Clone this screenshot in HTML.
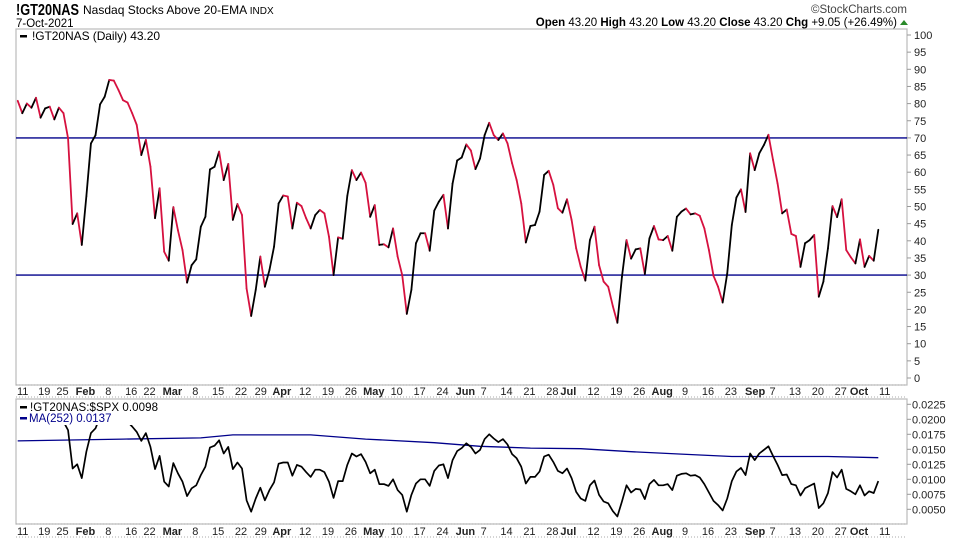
<!DOCTYPE html>
<html><head><meta charset="utf-8"><style>
body{margin:0;background:#fff;width:960px;height:540px;overflow:hidden;font-family:"Liberation Sans",sans-serif}
svg text{font-family:"Liberation Sans",sans-serif}
</style></head><body>
<svg id="chart" width="960" height="540" viewBox="0 0 960 540" xmlns="http://www.w3.org/2000/svg">
<defs>
<clipPath id="cpMain"><rect x="16" y="29" width="891" height="356"/></clipPath>
<clipPath id="cpLow"><rect x="16" y="399" width="891" height="125"/></clipPath>
</defs>
<text x="16" y="15" font-size="16" font-weight="bold" fill="#000" textLength="63" lengthAdjust="spacingAndGlyphs">!GT20NAS</text>
<text x="83" y="14" font-size="12" fill="#000">Nasdaq Stocks Above 20-EMA <tspan font-size="10">INDX</tspan></text>
<text x="16" y="27" font-size="11.5" fill="#000">7-Oct-2021</text>
<text x="907" y="13" font-size="11.5" fill="#444" text-anchor="end">©StockCharts.com</text>
<text x="897" y="26" font-size="11.5" fill="#000" text-anchor="end"><tspan font-weight="bold">Open</tspan> 43.20  <tspan font-weight="bold">High</tspan> 43.20  <tspan font-weight="bold">Low</tspan> 43.20  <tspan font-weight="bold">Close</tspan> 43.20  <tspan font-weight="bold">Chg</tspan> +9.05 (+26.49%)</text>
<polygon points="900,25 908,25 904,20" fill="#2a8a2a"/>
<g id="axes"></g>
<g id="mainSeries" clip-path="url(#cpMain)"></g>
<g id="lowSeries" clip-path="url(#cpLow)"></g>
<g id="legends"></g>
</svg>
<script>
// ---- data ----
const mainValues=[80.8,77.2,80,78.8,81.7,75.9,78.6,79.1,75.4,78.8,77.2,69.9,44.9,48,38.8,53,68.4,70.8,79.8,82,86.9,86.7,84,81,80.3,77.2,73.8,65,69.4,61.6,46.6,55.3,36.8,34.2,49.8,43.1,37.3,27.8,32.9,34.6,44.1,47,60.8,61.6,66,57.7,62.4,46.1,50.7,47.5,26.1,18.1,25.7,35.4,26.6,31.5,38.3,50.9,53.2,52.9,43.6,51.1,50.1,46.6,43.6,47.5,49,48,41.2,30,41,40.6,53.1,60.6,57.7,59.9,56.9,47,50.4,38.8,39,38.1,43.6,35.4,30,18.7,25.7,39.3,42.2,42.2,37.1,48.8,51.4,53.4,43.6,56.7,63.4,64.3,68.1,66.3,60.9,64,70.8,74.4,70.8,69.4,71.3,68.4,62.6,57.7,50.9,39.5,44.3,44.6,48.5,59.2,60.4,56.3,49.5,48.2,52.1,46.1,37.8,32.4,28.4,40.2,44.1,32.9,28.1,26.6,21,16.1,29.5,40.2,34.8,37.5,37.8,30.3,40.7,44.3,40.4,40.2,41.4,37.1,47,48.5,49.4,47.7,48,47.3,43.6,37.3,29.8,26.6,22,30.5,44.6,52.6,55,48.4,65.5,60.6,65.5,67.9,70.9,63.6,56.7,48,49.1,42,41.4,32.4,39.3,40.2,41.7,23.7,28.1,37.8,50.1,46.9,52.1,37.3,35.2,33.4,40.4,32.4,35.6,34.2,43.2];
const ratioValues=[0.0215,0.021,0.0216,0.0212,0.022,0.0205,0.021,0.0212,0.0203,0.0198,0.0196,0.0182,0.0118,0.0125,0.0102,0.0146,0.0177,0.0185,0.0204,0.0213,0.0226,0.0228,0.0213,0.0204,0.0196,0.0188,0.0179,0.0164,0.0177,0.0154,0.0117,0.0139,0.0096,0.0088,0.0127,0.011,0.0096,0.0072,0.0085,0.009,0.0107,0.0121,0.0153,0.0156,0.0165,0.0143,0.0154,0.0117,0.0128,0.0118,0.0065,0.0046,0.0068,0.0086,0.0065,0.0082,0.0095,0.0126,0.0128,0.0128,0.0106,0.0124,0.0121,0.0112,0.0104,0.0116,0.0116,0.0112,0.0096,0.0069,0.0097,0.0097,0.0124,0.0143,0.0138,0.0142,0.0129,0.011,0.0116,0.0092,0.0092,0.0089,0.01,0.0082,0.0074,0.0046,0.0074,0.0093,0.01,0.01,0.0089,0.0114,0.0123,0.0125,0.0102,0.0132,0.0147,0.0152,0.016,0.0154,0.0143,0.0149,0.0167,0.0175,0.0168,0.0162,0.0167,0.0158,0.0142,0.0135,0.0121,0.0093,0.0104,0.0104,0.0113,0.0138,0.0141,0.0129,0.0114,0.011,0.0118,0.0102,0.0079,0.0068,0.0064,0.009,0.0098,0.0074,0.0063,0.006,0.0047,0.0038,0.0063,0.009,0.0078,0.0084,0.0083,0.0067,0.0092,0.0099,0.009,0.009,0.0092,0.0082,0.0106,0.0109,0.011,0.0106,0.0107,0.0103,0.0092,0.0078,0.0064,0.0057,0.0048,0.0068,0.0097,0.0113,0.0119,0.0107,0.0143,0.0132,0.0143,0.0149,0.0155,0.0139,0.0124,0.0107,0.0108,0.0092,0.009,0.0073,0.0085,0.0089,0.0093,0.0052,0.006,0.0077,0.0112,0.0103,0.0116,0.0084,0.008,0.0075,0.009,0.0073,0.008,0.0077,0.0097];
const maDays=[0,23,40,47,64,76,91,101,112,123,134,145,156,167,177,188];
const maValues=[0.0164,0.0167,0.0169,0.0174,0.0174,0.0167,0.0161,0.0155,0.0152,0.0151,0.0146,0.0142,0.0138,0.0138,0.0138,0.0136];
const mainTicks=[0,5,10,15,20,25,30,35,40,45,50,55,60,65,70,75,80,85,90,95,100];
const lowTicks=[0.005,0.0075,0.01,0.0125,0.015,0.0175,0.02,0.0225];
const refLevels=[70,30];
const dateLabels=["11","19","25","Feb","8","16","22","Mar","8","15","22","29","Apr","12","19","26","May","10","17","24","Jun","7","14","21","28","Jul","12","19","26","Aug","9","16","23","Sep","7","13","20","27","Oct","11"];
const dateDays=[0,4.7,8.7,13.7,18.7,23.7,27.7,32.7,37.7,42.7,47.7,52.0,56.6,61.7,66.7,71.7,76.7,81.7,86.7,91.7,96.7,100.7,105.7,110.7,115.7,119.2,124.7,129.7,134.7,139.7,144.7,149.7,154.7,160,163.8,168.7,173.7,178.7,182.7,188.3];
const boldLabels=["Feb","Mar","Apr","May","Jun","Jul","Aug","Sep","Oct"];

// ---- scales ----
const NS="http://www.w3.org/2000/svg";
const X0=17.7,X1=878.3,N=mainValues.length;
function xDay(d){return X0+d*(X1-X0)/(N-1);}
function yMain(v){return 378-v*3.43;}
function yLow(v){return 404.3+(0.0225-v)*6000;}
function mk(tag,attrs,parent){const e=document.createElementNS(NS,tag);for(const k in attrs)e.setAttribute(k,attrs[k]);parent.appendChild(e);return e;}

const axes=document.getElementById('axes');
const f1=mk('rect',{x:16,y:29,width:891,height:356,fill:'none',stroke:'#bbb','stroke-width':1.2},axes);


const f2=mk('rect',{x:16,y:399,width:891,height:125,fill:'none',stroke:'#bbb','stroke-width':1.2},axes);


[385,397,524,537].forEach(function(y){
  const l=mk('line',{x1:16,x2:907,y1:y,y2:y,stroke:'#aaa','stroke-dasharray':'1,2'},axes);
  
  
});
mainTicks.forEach(function(t){
  const y=yMain(t);
  const tl=mk('line',{x1:907,x2:911,y1:y,y2:y,stroke:'#999'},axes);
  
  
  const tx=mk('text',{x:914,y:y+4,'font-size':11,fill:'#222'},axes);
  tx.textContent=t;
  
  
});
lowTicks.forEach(function(t){
  const y=yLow(t);
  const tl=mk('line',{x1:907,x2:911,y1:y,y2:y,stroke:'#999'},axes);
  
  
  const tx=mk('text',{x:912,y:y+4,'font-size':11,fill:'#222'},axes);
  tx.textContent=t.toFixed(4);
  
  
});
[395,535].forEach(function(yy,k){
  dateLabels.forEach(function(lab,i){
    const b=boldLabels.indexOf(lab)>=0;
    const tx=mk('text',{x:xDay(dateDays[i])+5,y:yy,'font-size':11,'text-anchor':'middle',fill:'#222','font-weight':b?'bold':'normal'},axes);
    tx.textContent=lab;
    
    
  });
});
refLevels.forEach(function(v){
  const l=mk('line',{x1:16,x2:907,y1:yMain(v),y2:yMain(v),stroke:'#00008b','stroke-width':1.4},axes);
  
  
});
const ms=document.getElementById('mainSeries');
for(let i=1;i<N;i++){
  const down=mainValues[i]<mainValues[i-1];
  const s=mk('line',{x1:xDay(i-1),y1:yMain(mainValues[i-1]),x2:xDay(i),y2:yMain(mainValues[i]),stroke:down?'#d6113f':'#000','stroke-width':1.8,'stroke-linecap':'round'},ms);
  
  
}
const ls=document.getElementById('lowSeries');
const ma=mk('polyline',{points:maDays.map(function(d,i){return xDay(d)+','+yLow(maValues[i]);}).join(' '),fill:'none',stroke:'#00008b','stroke-width':1.3},ls);


const rl=mk('polyline',{points:ratioValues.map(function(v,i){return xDay(i)+','+yLow(v);}).join(' '),fill:'none',stroke:'#000','stroke-width':1.7,'stroke-linejoin':'round'},ls);


const lg=document.getElementById('legends');
const lb1=mk('rect',{x:17,y:30,width:145,height:13,fill:'#fff'},lg);


const lm=mk('rect',{x:20,y:35,width:7,height:2.5,fill:'#000'},lg);


const lt=mk('text',{x:32,y:40,'font-size':12,fill:'#000','textLength':128},lg);
lt.textContent='!GT20NAS (Daily) 43.20';


const lb2=mk('rect',{x:17,y:400,width:142,height:25,fill:'#fff'},lg);


const s2=mk('rect',{x:20,y:406,width:7,height:2.5,fill:'#000'},lg);


const t2=mk('text',{x:30,y:411,'font-size':11.5,fill:'#000','textLength':128},lg);
t2.textContent='!GT20NAS:$SPX 0.0098';


const s3=mk('rect',{x:20,y:417,width:7,height:2.5,fill:'#00008b'},lg);


const t3=mk('text',{x:29,y:422,'font-size':11.5,fill:'#00008b'},lg);
t3.textContent='MA(252) 0.0137';


</script>
</body></html>
